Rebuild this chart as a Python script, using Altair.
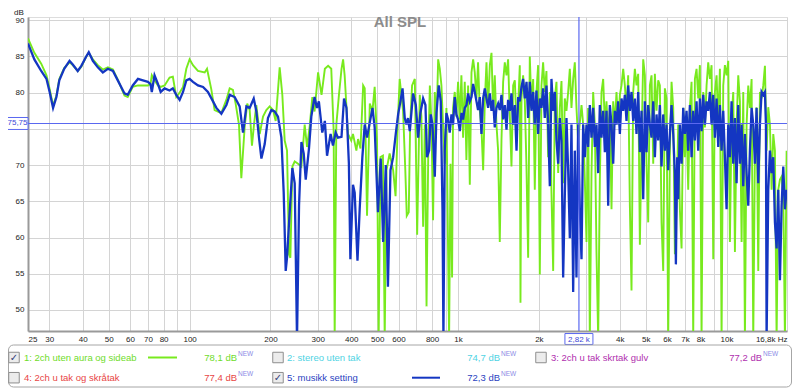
import altair as alt
import pandas as pd

# ---------------- data ----------------
# series 1 (green): "1: 2ch uten aura og sideab"  -> (Hz, dB)
GREEN = [
    (25.0,87.5),(26.4,85.5),(28.0,84.0),(29.3,82.4),(30.1,80.5),(31.0,78.2),(31.9,79.6),(32.7,81.9),(34.1,83.4),(35.7,84.2),
    (36.7,83.8),(38.3,83.0),(39.5,83.6),(41.2,85.0),(42.1,85.5),(43.6,84.6),(45.5,83.8),(47.5,83.2),(49.6,83.5),(51.8,83.2),
    (54.0,81.8),(57.2,79.6),(58.8,79.4),(61.4,80.8),(64.2,81.0),(67.0,81.0),(69.9,81.0),(71.5,81.2),(72.3,82.4),(74.0,81.7),
    (76.2,81.0),(78.0,80.8),(80.7,81.0),(84.2,82.1),(86.6,82.2),(89.2,79.4),(91.8,80.0),(94.5,80.8),(97.2,83.3),(100,84.6),
    (102.9,83.8),(107.4,83.0),(113.8,82.8),(116.1,83.3),(120.4,80.5),(123.9,77.6),(127.5,77.4),(131.2,77.2),(137.0,79.0),(141.0,80.6),
    (145.0,80.4),(148.4,78.5),(152.7,75.6),(155.8,68.2),(160.3,75.2),(163.9,78.5),(167.4,77.6),(170.7,72.7),(173.7,75.6),(177.2,78.3),
    (182.4,74.3),(187.7,76.7),(193.1,77.6),(198.7,78.1),(204.5,77.6),(209.2,76.1),(216.5,83.5),(221.5,79.7),(226.0,73.4),(230.6,72.0),
    (234.6,57.7),(237.3,57.2),(241.4,69.8),(246.3,70.5),(253.4,70.2),(260.8,69.8),(268.3,75.6),(273.8,72.5),(280.1,75.4),(286.5,79.4),
    (292,77.4),(301,82.8),(310,79.7),(319,83.3),(328,83.7),(337,83.3),(344,74.7),(347,46.0),(352,75.6),(360,79.7),
    (368,83.3),(373,84.6),(378,82.4),(389,74.3),(400,73.4),(406,74.3),(418,72.0),(424,73.6),(433,72.3),(443,81.0),
    (449,80.6),(458,63.0),(469,78.5),(480,77.5),(489,80.8),(499,73.4),(506,46.0),(514,71.1),(525,71.3),(533,46.0),
    (541,69.3),(556,71.6),(573,69.3),(585,65.7),(596,75.6),(606,81.9),(624,77.4),(636,69.3),(644,63.0),(655,63.5),
    (663,75.6),(674,81.0),(690,81.9),(704,60.4),(720,79.7),(730,76.7),(741,61.5),(752,75.6),(763,50.5),(774,71.1),
    (785,81.0),(796,75.6),(807,62.4),(819,80.1),(831,75.6),(843,84.6),(855,83.3),(867,81.0),(879,75.6),(892,70.2),
    (905,77.9),(926,46.0),(937,70.2),(950,54.5),(958,77.9),(972,80.1),(986,76.7),(1000,81.5),(1015,76.3),(1029,82.4),
    (1044,73.8),(1059,81.5),(1074,70.7),(1090,81.0),(1106,67.3),(1122,82.8),(1138,84.6),(1154,82.8),(1171,79.2),(1187,84.2),
    (1205,77.5),(1222,75.1),(1240,69.3),(1258,78.8),(1276,84.2),(1294,77.9),(1313,83.8),(1332,85.5),(1351,77.5),(1370,82.4),
    (1390,75.6),(1410,72.0),(1430,59.4),(1451,73.4),(1472,81.5),(1493,84.2),(1515,82.4),(1536,84.6),(1559,76.7),(1581,69.8),
    (1604,81.0),(1627,81.7),(1651,75.6),(1674,77.9),(1698,83.8),(1708,51.0),(1723,79.2),(1747,82.4),(1773,78.8),(1798,69.8),
    (1824,57.2),(1850,85.0),(1877,77.9),(1904,81.9),(1931,66.6),(1959,80.1),(1987,83.8),(2016,54.9),(2045,81.0),(2074,84.2),
    (2104,80.1),(2134,83.0),(2165,71.1),(2197,80.1),(2228,66.2),(2261,55.4),(2293,79.2),(2326,81.5),(2360,68.9),(2394,77.9),
    (2428,81.6),(2463,67.5),(2498,79.2),(2534,77.5),(2571,80.1),(2608,83.3),(2645,77.9),(2684,81.9),(2722,84.2),(2761,77.9),
    (2801,73.4),(2883,78.3),(2924,75.6),(2966,68.0),(3009,59.4),(3052,77.9),(3096,46.0),(3141,68.9),(3186,80.1),(3232,75.6),
    (3278,58.0),(3326,46.0),(3374,68.0),(3422,80.1),(3472,81.9),(3522,75.6),(3572,78.8),(3624,73.4),(3676,77.9),(3729,63.9),
    (3783,78.8),(3837,75.6),(3892,80.1),(3948,75.6),(4006,79.7),(4063,81.0),(4122,83.3),(4181,81.0),(4241,77.5),(4302,82.4),
    (4365,64.4),(4427,52.7),(4491,80.1),(4556,83.3),(4621,81.0),(4688,82.6),(4756,59.0),(4824,73.0),(4894,84.6),(4964,82.4),
    (5036,70.2),(5108,62.1),(5182,81.0),(5257,82.4),(5333,70.2),(5409,82.6),(5487,77.5),(5566,81.7),(5646,81.0),(5727,62.1),
    (5810,55.4),(5893,80.6),(5978,79.2),(6064,46.0),(6152,72.0),(6241,81.5),(6331,77.9),(6422,57.7),(6514,64.4),(6608,75.6),
    (6703,63.9),(6800,58.5),(6898,77.9),(6997,71.1),(7098,75.6),(7200,66.6),(7304,77.9),(7409,81.5),(7516,46.0),(7624,81.9),
    (7734,83.3),(7845,79.2),(7958,83.8),(8073,46.0),(8189,80.1),(8307,75.2),(8427,81.0),(8548,84.2),(8672,81.9),(8797,83.8),
    (8924,57.0),(9052,80.1),(9183,82.4),(9315,75.6),(9449,83.3),(9585,46.0),(9723,81.0),(9863,83.8),(10005,82.4),(10149,84.4),
    (10295,59.4),(10444,76.5),(10594,80.1),(10747,58.0),(10902,75.6),(11059,82.4),(11218,78.8),(11380,59.4),(11544,80.1),(11710,46.0),
    (11879,75.6),(12050,81.0),(12223,77.9),(12400,81.9),(12578,46.0),(12760,72.0),(12943,78.0),(13130,55.4),(13319,80.1),(13511,79.2),
    (13705,81.0),(13903,83.7),(14103,72.0),(14306,78.0),(14512,75.6),(14721,66.6),(14933,74.3),(15148,72.0),(15367,46.0),(15588,66.6),
    (15812,68.0),(16040,68.4),(16271,65.7),(16506,46.0),(16743,72.0),
]

# series 5 (blue): "5: musikk setting"  -> (Hz, dB)
BLUE = [
    (25.0,86.8),(26.4,84.6),(28.0,83.0),(29.3,81.9),(30.1,80.1),(31.0,77.9),(31.9,79.4),(32.7,81.7),(34.1,83.3),(35.7,84.4),
    (36.7,83.9),(38.3,83.0),(39.5,83.7),(41.2,85.0),(42.1,85.6),(43.6,84.4),(45.5,83.5),(47.5,82.8),(49.6,83.3),(51.8,83.0),
    (54.0,81.7),(57.2,79.9),(58.8,79.7),(61.4,81.0),(64.2,81.9),(67.0,81.7),(69.9,81.5),(71.5,81.2),(72.3,80.1),(74.0,82.4),
    (76.2,81.2),(78.0,80.1),(80.7,80.6),(84.2,80.3),(86.6,80.6),(89.2,79.7),(91.8,79.0),(94.5,80.1),(97.2,81.7),(100,81.9),
    (102.9,81.5),(107.4,81.0),(112.2,80.8),(117.0,80.1),(122.2,78.8),(125.8,77.9),(131.3,77.1),(137.1,78.3),(141.0,79.7),(147.2,79.4),
    (153.6,78.1),(158.1,74.5),(162.7,78.1),(167.4,77.9),(173.3,79.2),(177.3,77.4),(181.3,73.8),(185.1,70.9),(190.4,72.9),(195.8,76.5),
    (201.6,77.6),(207.4,77.4),(213.4,76.7),(219.7,73.8),(224.1,66.2),(228.0,55.4),(230.5,57.2),(233.9,61.2),(241.4,69.6),(246.3,67.5),
    (251.2,46.0),(255.6,64.4),(260.9,73.2),(266.1,71.6),(270.7,68.0),(278.4,72.3),(284,76.7),(292,79.4),(298,77.9),(303,78.8),
    (312,74.5),(319,76.1),(325,71.3),(335,74.3),(342,72.7),(350,74.5),(357,73.8),(368,73.9),(376,79.2),(384,77.9),
    (392,70.2),(397,57.0),(406,67.3),(412,66.2),(422,56.8),(430,63.9),(440,71.1),(449,75.6),(458,73.8),(469,75.9),
    (480,77.9),(489,75.2),(503,63.5),(515,70.9),(526,59.4),(538,70.0),(548,53.2),(560,69.3),(573,71.1),(586,74.3),
    (598,77.0),(610,78.8),(621,80.6),(633,76.5),(642,75.6),(651,76.5),(661,74.7),(680,79.9),(696,78.3),(710,73.8),
    (724,77.2),(741,79.2),(756,78.3),(766,71.1),(780,72.0),(791,77.0),(803,75.6),(819,68.4),(831,77.2),(847,81.0),
    (862,78.8),(875,63.9),(882,46.0),(892,72.0),(905,77.2),(918,76.3),(931,74.5),(945,77.0),(958,75.6),(972,79.4),
    (986,77.0),(1000,76.3),(1015,74.7),(1030,77.2),(1044,76.3),(1059,77.9),(1075,78.3),(1090,79.9),(1106,78.8),(1122,79.4),
    (1138,81.2),(1154,80.1),(1171,78.8),(1187,77.6),(1205,79.4),(1222,74.3),(1240,79.2),(1258,80.6),(1276,79.2),(1294,77.9),
    (1313,79.9),(1332,77.5),(1351,79.0),(1370,75.2),(1390,77.9),(1410,78.5),(1430,77.6),(1451,79.7),(1472,76.3),(1493,78.3),
    (1515,74.9),(1536,79.0),(1559,77.5),(1581,79.9),(1604,75.6),(1627,78.3),(1651,72.0),(1674,79.4),(1698,78.8),(1723,80.8),
    (1747,81.9),(1773,79.2),(1799,81.5),(1824,76.5),(1850,81.5),(1877,77.5),(1904,80.1),(1931,75.6),(1959,80.3),(1987,74.3),
    (2016,79.2),(2045,77.9),(2074,80.6),(2104,76.5),(2134,81.0),(2165,75.6),(2197,67.1),(2228,81.9),(2261,77.5),(2293,80.1),
    (2326,73.4),(2360,70.2),(2394,76.5),(2428,73.4),(2463,54.5),(2498,65.7),(2534,76.5),(2571,69.3),(2608,59.9),(2645,75.6),
    (2684,52.5),(2722,72.0),(2761,54.5),(2801,75.6),(2842,63.9),(2883,57.0),(2924,75.6),(2966,71.1),(3009,75.6),(3052,72.5),
    (3096,78.3),(3141,73.8),(3186,77.9),(3232,72.5),(3278,75.6),(3326,68.9),(3374,78.3),(3422,73.8),(3472,77.5),(3522,71.8),
    (3572,77.5),(3624,64.4),(3676,78.3),(3729,75.6),(3783,70.2),(3837,77.5),(3892,75.6),(3948,78.8),(4006,74.3),(4063,79.2),
    (4122,77.5),(4181,79.7),(4241,76.1),(4302,81.0),(4365,77.5),(4427,80.1),(4491,76.1),(4556,79.2),(4621,74.3),(4688,80.1),
    (4756,71.8),(4824,77.5),(4894,65.3),(4964,78.8),(5036,71.8),(5108,78.3),(5182,75.6),(5257,73.8),(5333,78.8),(5409,71.1),
    (5487,77.0),(5566,73.4),(5646,78.3),(5727,69.8),(5810,77.0),(5893,72.0),(5978,75.6),(6064,69.3),(6152,74.3),(6241,78.3),
    (6331,74.3),(6422,68.9),(6477,56.3),(6552,71.1),(6608,65.3),(6703,75.6),(6800,70.2),(6898,77.9),(6997,74.3),(7098,77.5),
    (7200,72.0),(7304,78.3),(7409,71.1),(7516,77.5),(7624,73.4),(7734,78.8),(7845,72.0),(7958,79.2),(8073,74.7),(8189,79.7),
    (8307,75.6),(8427,78.8),(8548,77.5),(8672,80.1),(8797,75.6),(8924,79.7),(9052,73.8),(9183,79.2),(9315,72.5),(9449,78.3),
    (9585,72.0),(9723,77.5),(9863,71.1),(10005,63.9),(10149,75.6),(10295,71.1),(10444,78.8),(10594,70.2),(10747,76.5),(10902,67.5),
    (11059,78.3),(11218,70.2),(11380,75.6),(11544,67.1),(11710,74.3),(11879,68.9),(12050,64.4),(12223,72.0),(12400,77.9),(12578,75.6),
    (12760,70.2),(12943,77.9),(13130,67.5),(13319,75.6),(13511,80.1),(13705,79.7),(13903,80.1),(14022,75.6),(14103,46.0),(14306,66.6),
    (14512,72.0),(14721,68.9),(14933,71.1),(15148,62.1),(15367,58.5),(15588,66.6),(15812,54.1),(16040,64.4),(16271,69.8),(16506,63.9),
    (16743,66.6),
]

TITLE = "All SPL"
Y_UNIT = "dB"
X_GRID = [25, 30, 40, 50, 60, 70, 80, 90, 100, 200, 300, 400, 500, 600, 700, 800, 900,
          1000, 2000, 3000, 4000, 5000, 6000, 7000, 8000, 9000, 10000, 16800]
X_LABELED = [25, 30, 40, 50, 60, 70, 80, 100, 200, 300, 400, 500, 600, 800,
             1000, 2000, 4000, 5000, 6000, 7000, 8000, 10000, 16800]
X_LABEL_TEXT = ["25", "30", "40", "50", "60", "70", "80", "100", "200", "300", "400", "500", "600", "800",
                "1k", "2k", "4k", "5k", "6k", "7k", "8k", "10k", "16,8k Hz"]
Y_TICKS = [50, 55, 60, 65, 70, 75, 80, 85, 90]
Y_HIDDEN = 75          # this label sits under the cursor read-out box
X_DOMAIN = [25, 16800]
Y_DOMAIN = [47.1, 90.45]

CURSOR_HZ = 2820
CURSOR_DB = 75.75
CURSOR_HZ_LABEL = "2,82 k"
CURSOR_DB_LABEL = "75,75"

LEG_NAMES = ["1: 2ch uten aura og sideab", "2: stereo uten tak", "3: 2ch u tak skrtak gulv",
             "4: 2ch u tak og skråtak", "5: musikk setting"]
LEG_VALUES = ["78,1 dB", "74,7 dB", "77,2 dB", "77,4 dB", "72,3 dB"]
LEG_CHECKED = [True, False, False, False, True]
LEG_TEXT_COLORS = ["#6fdc2a", "#4fd3e3", "#b02fae", "#e84545", "#2a3fbf"]
LEG_NEW = "NEW"

# ---------------- styling ----------------
GREEN_C = "#78ea1e"
BLUE_C = "#1436c2"
CURSOR_C = "#5a68f0"
GRID_C = "#d4d4d4"
FONT = "Liberation Sans"

W, H = 759, 314

label_expr = "''"
for v, t in reversed(list(zip(X_LABELED, X_LABEL_TEXT))):
    label_expr = f"datum.value == {v} ? '{t}' : " + label_expr

XSCALE = alt.Scale(type="log", domain=X_DOMAIN, nice=False)
YSCALE = alt.Scale(domain=Y_DOMAIN, nice=False, zero=False)
XAXIS = alt.Axis(values=X_GRID, labelExpr=label_expr, grid=True, gridColor=GRID_C, gridWidth=1,
                 ticks=False, domainColor="#9a9a9a", domainWidth=2, labelFont=FONT, labelFontSize=8,
                 labelColor="#222222", labelPadding=4, labelOverlap=False, title=None)
YAXIS = alt.Axis(values=Y_TICKS, grid=True, gridColor=GRID_C, gridWidth=1, ticks=False,
                 labelExpr=f"datum.value == {Y_HIDDEN} ? '' : datum.label",
                 domainColor="#9a9a9a", domainWidth=2, labelFont=FONT, labelFontSize=8,
                 labelColor="#222222", labelPadding=4, labelOverlap=False, title=None)


def XE(field):
    return alt.X(field, scale=XSCALE, axis=XAXIS, title=None)


def YE(field):
    return alt.Y(field, scale=YSCALE, axis=YAXIS, title=None)


g_df = pd.DataFrame(GREEN, columns=["hz", "db"])
b_df = pd.DataFrame(BLUE, columns=["hz", "db"])
cur = pd.DataFrame({"hz": [CURSOR_HZ], "db": [CURSOR_DB],
                    "hzlab": [CURSOR_HZ_LABEL], "dblab": [CURSOR_DB_LABEL]})
one = pd.DataFrame({"k": [0]})

layers = []
layers.append(alt.Chart(g_df).mark_line(color=GREEN_C, strokeWidth=1.9, clip=True)
              .encode(x=XE("hz:Q"), y=YE("db:Q")))
layers.append(alt.Chart(b_df).mark_line(color=BLUE_C, strokeWidth=2.3, clip=True)
              .encode(x=XE("hz:Q"), y=YE("db:Q")))
# cursors
layers.append(alt.Chart(cur).mark_rule(color=CURSOR_C, strokeWidth=1.2).encode(x=XE("hz:Q")))
layers.append(alt.Chart(cur).mark_rule(color=CURSOR_C, strokeWidth=1.2).encode(y=YE("db:Q")))
layers.append(alt.Chart(cur).mark_point(shape="M-1,-0.39L1,-0.39L1,0.39L-1,0.39Z", size=784, filled=True,
                                        fill="white", stroke=CURSOR_C, strokeWidth=1, opacity=1)
              .encode(x=XE("hz:Q"), y=alt.value(H + 8)))
layers.append(alt.Chart(cur).mark_text(font=FONT, fontSize=8, color="#3a48d8", baseline="middle")
              .encode(x=XE("hz:Q"), y=alt.value(H + 8.5), text="hzlab:N"))
layers.append(alt.Chart(cur).mark_point(shape="M-1,-0.57L1,-0.57L1,0.57L-1,0.57Z", size=441, filled=True,
                                        fill="white", stroke=CURSOR_C, strokeWidth=1, opacity=1)
              .encode(x=alt.value(-10.5), y=YE("db:Q")))
layers.append(alt.Chart(cur).mark_text(font=FONT, fontSize=8, color="#3a48d8", baseline="middle")
              .encode(x=alt.value(-10.5), y=YE("db:Q"), text="dblab:N"))
# title + unit
layers.append(alt.Chart(one).mark_text(text=TITLE, font=FONT, fontSize=15, fontWeight="bold",
                                       color="#8c8c8c", baseline="middle")
              .encode(x=alt.value(372), y=alt.value(5)))
layers.append(alt.Chart(one).mark_text(text=Y_UNIT, font=FONT, fontSize=8, color="#222222",
                                       baseline="alphabetic")
              .encode(x=alt.value(-9), y=alt.value(-2.5)))

# legend panel
layers.append(alt.Chart(one).mark_rect(fill="white", stroke="#a6a6a6", strokeWidth=1, cornerRadius=5)
              .encode(x=alt.value(-19.5), x2=alt.value(763.5), y=alt.value(328), y2=alt.value(370)))
CHECK_X = [-14, 250, 513]
LABEL_X = [-4, 259, 523]
VALUE_X = [209, 472, 734]
SAMPLE_X = [(120, 149), (384, 412), (0, 0)]
ROW_Y = [340.5, 360.7]
SLOTS = [(0, 0), (0, 1), (0, 2), (1, 0), (1, 1)]
for i, (r, c) in enumerate(SLOTS):
    yy = ROW_Y[r]
    col = LEG_TEXT_COLORS[i]
    layers.append(alt.Chart(one).mark_point(shape="square", size=110, filled=True, fill="#ececec",
                                            stroke="#8e8e8e", strokeWidth=1, opacity=1)
                  .encode(x=alt.value(CHECK_X[c]), y=alt.value(yy)))
    if LEG_CHECKED[i]:
        layers.append(alt.Chart(one).mark_text(text="✓", font="DejaVu Sans", fontSize=10, fontWeight="bold",
                                               color="#33407a", baseline="middle")
                      .encode(x=alt.value(CHECK_X[c]), y=alt.value(yy)))
        sx = SAMPLE_X[c]
        line_c = GREEN_C if i == 0 else BLUE_C
        layers.append(alt.Chart(one).mark_rule(color=line_c, strokeWidth=2)
                      .encode(x=alt.value(sx[0]), x2=alt.value(sx[1]), y=alt.value(yy)))
    layers.append(alt.Chart(one).mark_text(text=LEG_NAMES[i], font=FONT, fontSize=9.5, color=col,
                                           align="left", baseline="middle")
                  .encode(x=alt.value(LABEL_X[c]), y=alt.value(yy + 0.5)))
    layers.append(alt.Chart(one).mark_text(text=LEG_VALUES[i], font=FONT, fontSize=9.5, color=col,
                                           align="right", baseline="middle")
                  .encode(x=alt.value(VALUE_X[c]), y=alt.value(yy + 0.5)))
    layers.append(alt.Chart(one).mark_text(text=LEG_NEW, font=FONT, fontSize=6.5, color="#8c8ce6",
                                           align="left", baseline="middle")
                  .encode(x=alt.value(VALUE_X[c] + 1), y=alt.value(yy - 3.5)))

chart = (
    alt.layer(*layers)
    .properties(width=W, height=H, autosize=alt.AutoSizeParams(type="none"),
                padding={"left": 20, "top": 9, "right": 5, "bottom": 57})
    .configure_view(stroke="#b4b4b4", strokeWidth=1)
    .configure(background="white")
)

chart.save("out.html", embed_options={"renderer": "svg", "actions": False})
